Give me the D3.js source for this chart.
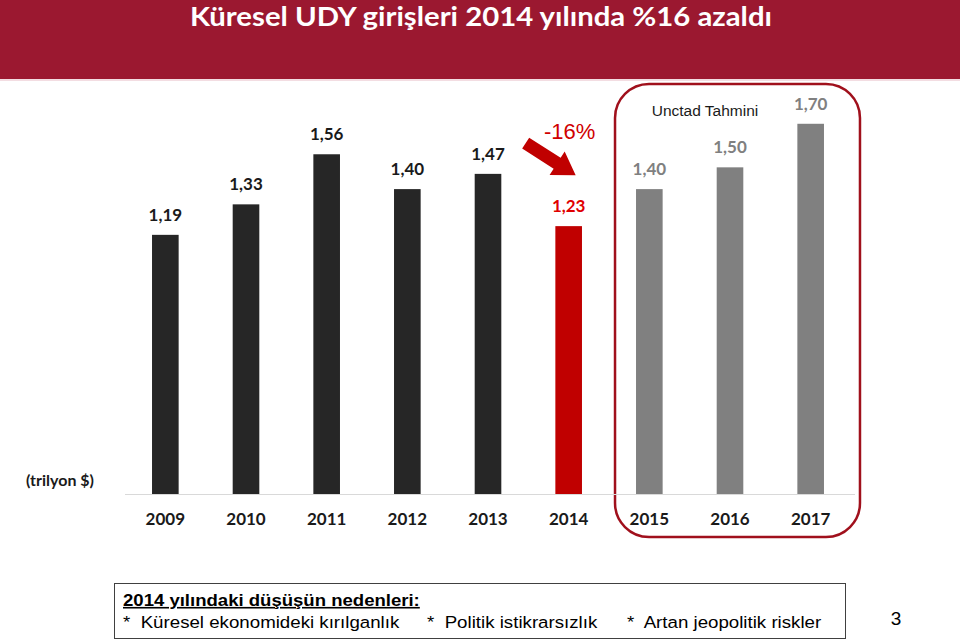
<!DOCTYPE html>
<html>
<head>
<meta charset="utf-8">
<script src="https://cdn.jsdelivr.net/npm/d3@7"></script>
<style>
  html, body { margin: 0; padding: 0; background: #fff; }
  svg { display: block; }
</style>
</head>
<body>
<svg id="chart" width="960" height="640"></svg>
<script>
const years = ["2009","2010","2011","2012","2013","2014","2015","2016","2017"];
const values = [1.19, 1.33, 1.56, 1.40, 1.47, 1.23, 1.40, 1.50, 1.70];
const labels = ["1,19","1,33","1,56","1,40","1,47","1,23","1,40","1,50","1,70"];
const kinds = ["actual","actual","actual","actual","actual","drop","forecast","forecast","forecast"];
const title = "Küresel UDY girişleri 2014 yılında %16 azaldı";
const unitLabel = "(trilyon $)";
const changeLabel = "-16%";
const forecastLabel = "Unctad Tahmini";
const noteTitle = "2014 yılındaki düşüşün nedenleri:";
const noteItems = ["Küresel ekonomideki kırılganlık", "Politik istikrarsızlık", "Artan jeopolitik riskler"];
const pageNumber = "3";

const barColor = {actual: "#262626", drop: "#c00000", forecast: "#808080"};
const labelColor = {actual: "#1a1a1a", drop: "#e00000", forecast: "#808080"};
const CAL = "Lato, 'Open Sans', sans-serif";
const ARIAL = "'Liberation Sans', Arial, sans-serif";

const svg = d3.select("#chart");
const data = years.map((y, i) => ({year: y, value: values[i], label: labels[i], kind: kinds[i]}));

// Header band
svg.append("rect").attr("x", 0).attr("y", 0).attr("width", 960).attr("height", 79).attr("fill", "#9b1830");
svg.append("rect").attr("x", 0).attr("y", 79).attr("width", 960).attr("height", 2).attr("fill", "#f3dde2");
svg.append("text").attr("x", 190).attr("y", 26)
  .attr("textLength", 582).attr("lengthAdjust", "spacingAndGlyphs")
  .attr("fill", "#fff").attr("font-family", CAL).attr("font-weight", "bold").attr("font-size", 26)
  .text(title);

const x = d3.scaleBand().domain(years).range([125, 851]).paddingInner(0.67).paddingOuter(0.335);
const y = d3.scaleLinear().domain([0, 1.8]).range([494, 102]);

// Forecast rounded box
const fx0 = x("2015") - 21;
const fx1 = x("2017") + x.bandwidth() + 36;
svg.append("rect").attr("x", fx0).attr("y", 84).attr("width", fx1 - fx0).attr("height", 537 - 84)
  .attr("rx", 34).attr("ry", 34).attr("fill", "none").attr("stroke", "#a0101c").attr("stroke-width", 2.5);

// baseline
svg.append("line").attr("x1", 125).attr("x2", 855).attr("y1", y(0) + 0.5).attr("y2", y(0) + 0.5)
  .attr("stroke", "#d9d9d9").attr("stroke-width", 1);

// bars
svg.append("g").selectAll("rect").data(data).join("rect")
  .attr("x", d => x(d.year)).attr("width", x.bandwidth())
  .attr("y", d => y(d.value)).attr("height", d => y(0) - y(d.value))
  .attr("fill", d => barColor[d.kind]);

// value labels
svg.append("g").selectAll("text").data(data).join("text")
  .attr("x", d => x(d.year) + x.bandwidth() / 2).attr("y", d => y(d.value) - 14)
  .attr("text-anchor", "middle").attr("font-family", CAL).attr("font-weight", "bold").attr("font-size", 17)
  .attr("fill", d => labelColor[d.kind]).text(d => d.label);

// x axis labels
const xAxis = d3.axisBottom(x).tickSize(0).tickPadding(0);
const gx = svg.append("g").attr("transform", `translate(0, ${y(0) + 31})`).call(xAxis);
gx.select(".domain").remove();
gx.selectAll("text").attr("font-family", CAL).attr("font-weight", "bold").attr("font-size", 17)
  .attr("fill", "#1a1a1a").attr("dy", 0).attr("y", 0);

// unit label
svg.append("text").attr("x", 26).attr("y", 486).attr("font-family", CAL).attr("font-weight", "bold")
  .attr("font-size", 16).attr("fill", "#1a1a1a").text(unitLabel);

// forecast label
svg.append("text").attr("x", 705).attr("y", 116).attr("text-anchor", "middle").attr("font-family", ARIAL)
  .attr("font-size", 15.5).attr("fill", "#1a1a1a").text(forecastLabel);

// -16% label and arrow
const cx14 = x("2014") + x.bandwidth() / 2;
svg.append("text").attr("x", cx14 + 1).attr("y", 139).attr("text-anchor", "middle").attr("font-family", ARIAL)
  .attr("font-size", 22).attr("fill", "#d00000").text(changeLabel);

const tip = [cx14 + 7, y(values[5]) - 51];
const tail = [cx14 - 43, y(values[5]) - 83];
const dx = tip[0] - tail[0], dy = tip[1] - tail[1];
const len = Math.hypot(dx, dy);
const ux = dx / len, uy = dy / len, px = -uy, py = ux;
const headLen = 22, headW = 14, shaftW = 6.5;
const hb = [tip[0] - ux * headLen, tip[1] - uy * headLen];
const arrowPts = [
  [tail[0] + px * shaftW, tail[1] + py * shaftW],
  [hb[0] + px * shaftW, hb[1] + py * shaftW],
  [hb[0] + px * headW, hb[1] + py * headW],
  tip,
  [hb[0] - px * headW, hb[1] - py * headW],
  [hb[0] - px * shaftW, hb[1] - py * shaftW],
  [tail[0] - px * shaftW, tail[1] - py * shaftW]
];
svg.append("path").attr("d", d3.line()(arrowPts) + "Z").attr("fill", "#c00000");

// bottom note box
svg.append("rect").attr("x", 114.5).attr("y", 583.5).attr("width", 731).attr("height", 55)
  .attr("fill", "#fff").attr("stroke", "#404040").attr("stroke-width", 1);
svg.append("text").attr("transform", "translate(123,606) scale(1.16,1)")
  .attr("font-family", ARIAL).attr("font-weight", "bold")
  .attr("font-size", 16).attr("fill", "#000").attr("text-decoration", "underline").text(noteTitle);
const itemX = [123, 427, 627];
noteItems.forEach((t, i) => {
  svg.append("text").attr("transform", `translate(${itemX[i]},628) scale(1.1,1)`)
    .attr("font-family", ARIAL)
    .attr("font-size", 17).attr("fill", "#000").attr("xml:space", "preserve")
    .text("*  " + t);
});
svg.append("text").attr("x", 896).attr("y", 625).attr("text-anchor", "middle").attr("font-family", ARIAL)
  .attr("font-size", 19).attr("fill", "#000").text(pageNumber);
</script>
</body>
</html>
